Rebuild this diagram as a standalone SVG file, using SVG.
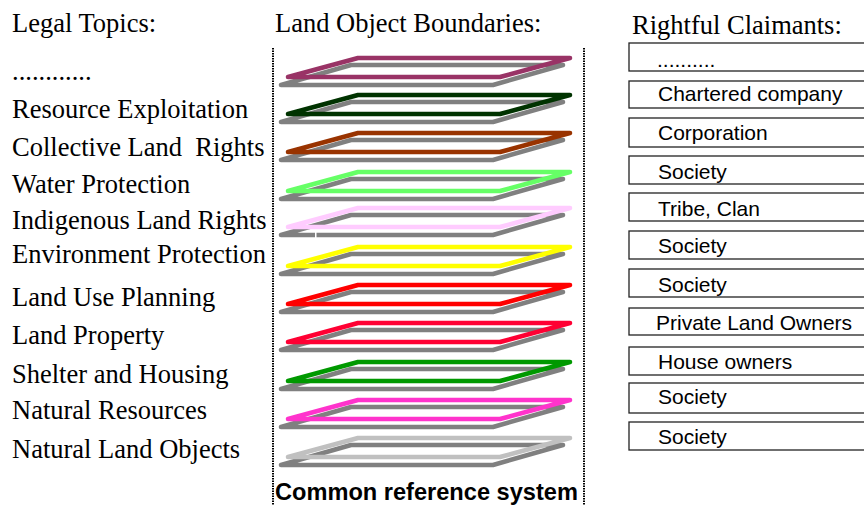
<svg xmlns="http://www.w3.org/2000/svg" width="864" height="505" viewBox="0 0 864 505">
<style>
.hd{font-family:"Liberation Serif","Times New Roman",serif;font-size:26.5px;fill:#000}
.tp{font-family:"Liberation Serif","Times New Roman",serif;font-size:26.5px;fill:#000}
.bx{fill:#fff;stroke:#222;stroke-width:1.3}
.cl{font-family:"Liberation Sans",Arial,sans-serif;font-size:21px;fill:#000}
.sh{fill:none;stroke:#808080;stroke-width:4.6;stroke-linejoin:round;stroke-linecap:round}
.ly{fill:none;stroke-width:4.6;stroke-linejoin:round;stroke-linecap:round}
.dl{stroke:#000;stroke-width:2;stroke-dasharray:1.5 1}
.cr{font-family:"Liberation Sans",Arial,sans-serif;font-size:23.6px;font-weight:bold;fill:#000}
</style>
<defs>
<path id="shadow" d="M351,7 L563,7 L493,27 L281,27 Z"/>
<path id="plane" d="M358,0 L570,0 L500,19 L288,19 Z"/>
</defs>
<rect width="864" height="505" fill="#fff"/>

<g id="headers">
<text class="hd" x="12" y="32">Legal Topics:</text>
<text class="hd" x="275" y="32">Land Object Boundaries:</text>
<text class="hd" x="632" y="34">Rightful Claimants:</text>
</g>

<g id="topics">
<text class="tp" x="12" y="80">............</text>
<text class="tp" x="12" y="118">Resource Exploitation</text>
<text class="tp" x="12" y="156" xml:space="preserve">Collective Land  Rights</text>
<text class="tp" x="12" y="193">Water Protection</text>
<text class="tp" x="12" y="229">Indigenous Land Rights</text>
<text class="tp" x="12" y="263">Environment Protection</text>
<text class="tp" x="12" y="306">Land Use Planning</text>
<text class="tp" x="12" y="344">Land Property</text>
<text class="tp" x="12" y="383">Shelter and Housing</text>
<text class="tp" x="12" y="419">Natural Resources</text>
<text class="tp" x="12" y="458">Natural Land Objects</text>
</g>

<g id="frame">
<line class="dl" x1="273" y1="48" x2="273" y2="505"/>
<line class="dl" x1="584" y1="48" x2="584" y2="505"/>
</g>

<g id="layer1" transform="translate(0,58)"><use href="#shadow" class="sh"/><use href="#plane" class="ly" stroke="#993366"/></g>
<g id="layer2" transform="translate(0,95)"><use href="#shadow" class="sh"/><use href="#plane" class="ly" stroke="#003300"/></g>
<g id="layer3" transform="translate(0,133)"><use href="#shadow" class="sh"/><use href="#plane" class="ly" stroke="#993300"/></g>
<g id="layer4" transform="translate(0,172)"><use href="#shadow" class="sh"/><use href="#plane" class="ly" stroke="#66ff66"/></g>
<g id="layer5" transform="translate(0,208)"><use href="#shadow" class="sh"/><rect x="315" y="24" width="1.5" height="6" fill="#fff"/><use href="#plane" class="ly" stroke="#ffccff"/></g>
<g id="layer6" transform="translate(0,247)"><use href="#shadow" class="sh"/><use href="#plane" class="ly" stroke="#ffff00"/></g>
<g id="layer7" transform="translate(0,285)"><use href="#shadow" class="sh"/><use href="#plane" class="ly" stroke="#ff0000"/></g>
<g id="layer8" transform="translate(0,323)"><use href="#shadow" class="sh"/><use href="#plane" class="ly" stroke="#ff0033"/></g>
<g id="layer9" transform="translate(0,362)"><use href="#shadow" class="sh"/><use href="#plane" class="ly" stroke="#009900"/></g>
<g id="layer10" transform="translate(0,400)"><use href="#shadow" class="sh"/><use href="#plane" class="ly" stroke="#ff33cc"/></g>
<g id="layer11" transform="translate(0,438)"><use href="#shadow" class="sh"/><use href="#plane" class="ly" stroke="#c0c0c0"/></g>

<g id="caption"><text class="cr" x="275" y="500">Common reference system</text></g>

<g id="claimant1"><rect class="bx" x="629" y="43" width="300" height="28"/><text class="cl" x="657" y="67">..........</text></g>
<g id="claimant2"><rect class="bx" x="629" y="81" width="300" height="27"/><text class="cl" x="658" y="101">Chartered company</text></g>
<g id="claimant3"><rect class="bx" x="629" y="118" width="300" height="29"/><text class="cl" x="658" y="140">Corporation</text></g>
<g id="claimant4"><rect class="bx" x="629" y="156" width="300" height="28"/><text class="cl" x="658" y="179">Society</text></g>
<g id="claimant5"><rect class="bx" x="629" y="193" width="300" height="28"/><text class="cl" x="658" y="215.5">Tribe, Clan</text></g>
<g id="claimant6"><rect class="bx" x="629" y="231" width="300" height="28"/><text class="cl" x="658" y="252.5">Society</text></g>
<g id="claimant7"><rect class="bx" x="629" y="269" width="300" height="28"/><text class="cl" x="658" y="291.5">Society</text></g>
<g id="claimant8"><rect class="bx" x="629" y="308" width="300" height="27"/><text class="cl" x="656" y="330">Private Land Owners</text></g>
<g id="claimant9"><rect class="bx" x="629" y="347" width="300" height="28"/><text class="cl" x="658" y="368.5">House owners</text></g>
<g id="claimant10"><rect class="bx" x="629" y="383" width="300" height="30"/><text class="cl" x="658" y="403.5">Society</text></g>
<g id="claimant11"><rect class="bx" x="629" y="422" width="300" height="28"/><text class="cl" x="658" y="443.5">Society</text></g>
</svg>
